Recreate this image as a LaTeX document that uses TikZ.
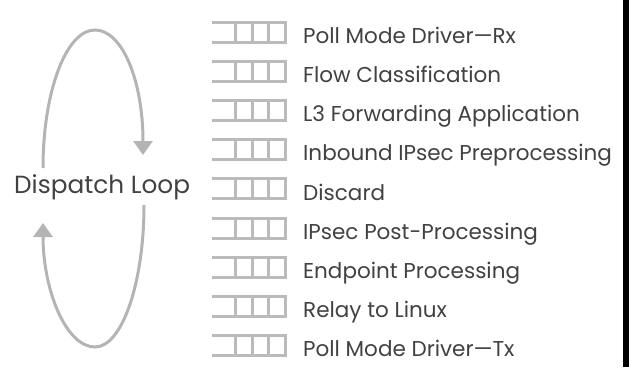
\documentclass[tikz,border=0pt]{standalone}
\usepackage{fontspec}
\setmainfont{Poppins}
\usetikzlibrary{arrows.meta}
\definecolor{txtgray}{RGB}{65,65,65}
\definecolor{loopgray}{RGB}{180,180,180}
\definecolor{qgray}{RGB}{185,188,185}
\tikzset{
  loopline/.style={draw=loopgray, line width=3pt, -{Triangle[width=19pt,length=14pt]}},
  qline/.style={draw=qgray, line width=3pt},
  stagetext/.style={anchor=base west, inner sep=0pt, text=txtgray, font=\fontsize{21.5}{23}\selectfont},
}
\begin{document}
\begin{tikzpicture}[x=1pt,y=-1pt]
    \useasboundingbox (0,0) rectangle (629,367);
    \fill[black] (623,0) rectangle (629,367);
    % dispatch loop
    \node[anchor=base west, inner sep=0pt, text=txtgray, font=\fontsize{24.8}{26}\selectfont] (loop) at (14,193.3) {Dispatch Loop};
    \coordinate (upstart) at (43,168);
    \coordinate (uptop) at (95,30);
    \coordinate (upend) at (143,155);
    \coordinate (lowstart) at (144,205);
    \coordinate (lowbot) at (95,347);
    \coordinate (lowend) at (43,223);
    \draw[loopline] (upstart) .. controls (43,92) and (66,30) .. (uptop)
        .. controls (122,30) and (143,80) .. (upend);
    \draw[loopline] (lowstart) .. controls (144,283) and (122,347) .. (lowbot)
        .. controls (66,347) and (43,290) .. (lowend);
    % stage queues
    \foreach \txt [count=\i from 0] in {Poll Mode Driver---Rx, Flow Classification,
        L3 Forwarding Application, Inbound IPsec Preprocessing, Discard,
        IPsec Post-Processing, Endpoint Processing, Relay to Linux, Poll Mode Driver---Tx}
    {
        \pgfmathsetmacro{\yc}{32+39.2*\i}
        \draw[qline] (212,\yc-10) -- (285,\yc-10) -- (285,\yc+10) -- (212,\yc+10);
        \draw[qline] (235.5,\yc-10) -- (235.5,\yc+10)
            (252,\yc-10) -- (252,\yc+10)
            (268.5,\yc-10) -- (268.5,\yc+10);
        \node[stagetext] (stage\i) at (303,\yc+11.3) {\txt};
    }
\end{tikzpicture}
\end{document}
